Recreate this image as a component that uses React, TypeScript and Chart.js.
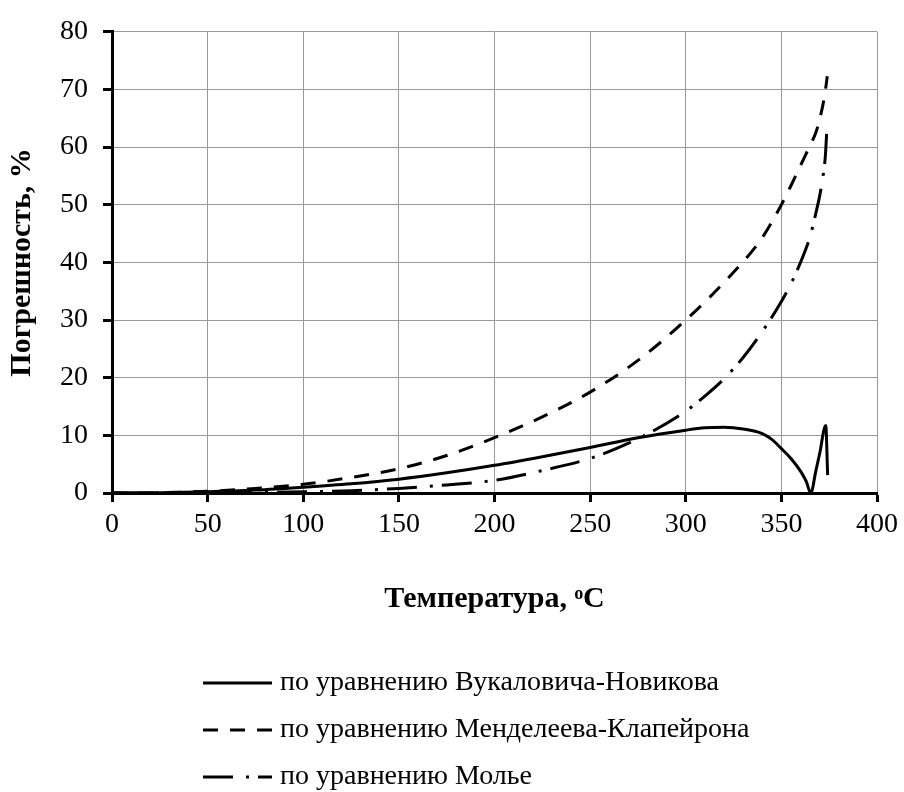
import { useEffect, useRef } from "react";
import { Chart, registerables } from "chart.js";

Chart.register(...registerables);

// Error of the saturated-steam density estimate vs temperature, %
const tempVukalovich = [0, 25, 50, 75, 100, 125, 150, 175, 200, 225, 250, 275, 300, 310, 320, 330, 340, 345, 350, 355, 360, 363, 365.4, 368, 370, 373.2, 374.2];
const errVukalovich = [0, 0.05, 0.2, 0.5, 1.0, 1.6, 2.4, 3.5, 4.8, 6.3, 7.9, 9.6, 10.9, 11.3, 11.4, 11.1, 10.3, 9.3, 7.7, 6.0, 3.8, 2.0, 0, 3.8, 6.8, 11.7, 3.1];

const tempMendeleev = [0, 25, 50, 75, 100, 125, 150, 175, 200, 225, 250, 275, 300, 325, 340, 350, 355, 360, 365, 368, 370, 372, 373, 374];
const errMendeleev = [0, 0.05, 0.3, 0.8, 1.5, 2.7, 4.2, 6.5, 9.6, 13.2, 17.5, 23.0, 30.0, 38.3, 44.3, 50.0, 53.3, 56.8, 60.3, 62.5, 64.8, 67.8, 69.8, 72.3];

const tempMollier = [0, 50, 100, 125, 150, 175, 200, 225, 250, 275, 300, 310, 320, 330, 340, 350, 355, 360, 365, 368, 370, 372, 373, 374];
const errMollier = [0, 0.02, 0.2, 0.4, 0.8, 1.4, 2.2, 3.9, 6.0, 9.4, 14.2, 16.8, 19.8, 23.5, 28.0, 33.2, 36.3, 40.0, 44.5, 48.5, 51.5, 55.5, 58.5, 64.5];

const seriesLabels = [
  "по уравнению Вукаловича-Новикова",
  "по уравнению Менделеева-Клапейрона",
  "по уравнению Молье",
];

const xTitle = "Температура, ᵒC";
const yTitle = "Погрешность, %";

const SERIF = '"Liberation Serif", "Times New Roman", serif';

const points = (xs: number[], ys: number[]) => xs.map((x, i) => ({ x, y: ys[i] }));

// Legend stacked under the x-axis title, one entry per row
const stackedLegend = {
  id: "stackedLegend",
  afterDraw(chart: any) {
    const { ctx, chartArea } = chart;
    chart.data.datasets.forEach((ds: any, i: number) => {
      const y = chartArea.bottom + 190 + i * 47;
      const x0 = chartArea.left + 91;
      ctx.save();
      ctx.strokeStyle = ds.borderColor;
      ctx.lineWidth = 3;
      ctx.lineCap = "butt";
      ctx.setLineDash(ds.borderDash || []);
      ctx.beginPath();
      ctx.moveTo(x0, y);
      ctx.lineTo(x0 + 69, y);
      ctx.stroke();
      ctx.setLineDash([]);
      ctx.fillStyle = "#000";
      ctx.font = `28px ${SERIF}`;
      ctx.textBaseline = "middle";
      ctx.textAlign = "left";
      ctx.fillText(ds.label, x0 + 77, y);
      ctx.restore();
    });
  },
};

export default function App() {
  const canvasRef = useRef<HTMLCanvasElement | null>(null);

  useEffect(() => {
    document.body.style.margin = "0";
    const canvas = canvasRef.current;
    if (!canvas) return;

    const lineStyle = {
      borderColor: "#000",
      borderWidth: 3,
      pointRadius: 0,
      pointHoverRadius: 0,
      fill: false,
      cubicInterpolationMode: "monotone" as const,
      borderCapStyle: "butt" as const,
    };

    const chart = new Chart(canvas, {
      type: "line",
      data: {
        datasets: [
          { ...lineStyle, label: seriesLabels[0], data: points(tempVukalovich, errVukalovich), borderDash: [] },
          { ...lineStyle, label: seriesLabels[1], data: points(tempMendeleev, errMendeleev), borderDash: [15, 12] },
          { ...lineStyle, label: seriesLabels[2], data: points(tempMollier, errMollier), borderDash: [30, 13, 3, 9] },
        ],
      },
      options: {
        animation: false,
        responsive: false,
        devicePixelRatio: 1,
        layout: { padding: { left: 0, right: 26, top: 27, bottom: 175 } },
        plugins: {
          legend: { display: false },
          tooltip: { enabled: false },
        },
        scales: {
          x: {
            type: "linear",
            min: 0,
            max: 400,
            ticks: { stepSize: 50, color: "#000", font: { family: SERIF, size: 28 }, padding: 6 },
            grid: { color: "#999", lineWidth: 1, tickColor: "#000", tickWidth: 3, tickLength: 9 },
            border: { color: "#000", width: 3 },
            title: {
              display: true,
              text: xTitle,
              color: "#000",
              font: { family: SERIF, size: 30, weight: "bold" },
              padding: { top: 0, bottom: 0 },
            },
            afterFit: (s: any) => {
              s.height = 124;
            },
          },
          y: {
            min: 0,
            max: 80,
            ticks: { stepSize: 10, color: "#000", font: { family: SERIF, size: 28 }, padding: 15 },
            grid: { color: "#999", lineWidth: 1, tickColor: "#000", tickWidth: 3, tickLength: 9 },
            border: { color: "#000", width: 3 },
            title: {
              display: true,
              text: yTitle,
              color: "#000",
              font: { family: SERIF, size: 30, weight: "bold" },
              padding: { top: 4, bottom: 0 },
            },
            afterFit: (s: any) => {
              s.width = 112;
            },
          },
        },
      },
      plugins: [stackedLegend],
    });

    return () => chart.destroy();
  }, []);

  return (
    <div style={{ width: 904, height: 792 }}>
      <canvas ref={canvasRef} width={904} height={792} style={{ display: "block" }} />
    </div>
  );
}
